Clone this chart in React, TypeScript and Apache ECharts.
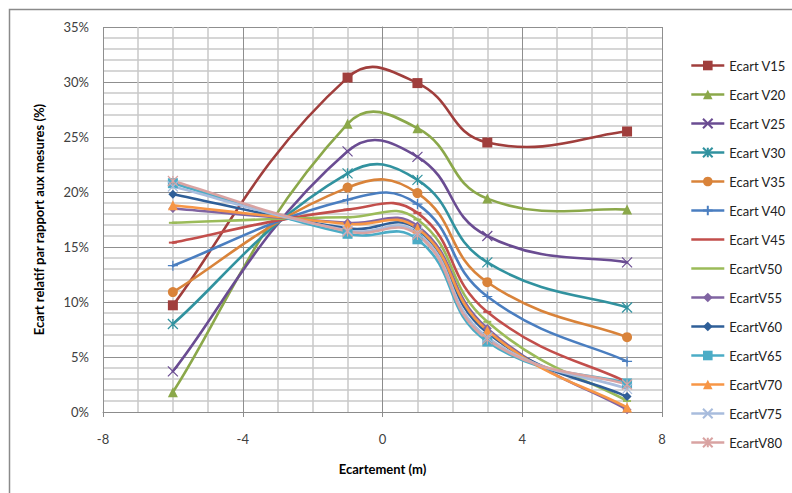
import React, { useEffect, useRef } from "react";
import * as echarts from "echarts";

const xPositions = [-6, -1, 1, 3, 7];
const seriesNames = [
  "Ecart V15", "Ecart V20", "Ecart V25", "Ecart V30", "Ecart V35", "Ecart V40", "Ecart V45",
  "EcartV50", "EcartV55", "EcartV60", "EcartV65", "EcartV70", "EcartV75", "EcartV80",
];
const v15 = [9.7, 30.4, 29.9, 24.5, 25.5];
const v20 = [1.8, 26.2, 25.8, 19.4, 18.4];
const v25 = [3.7, 23.7, 23.2, 16.0, 13.6];
const v30 = [8.0, 21.7, 21.1, 13.6, 9.5];
const v35 = [10.9, 20.4, 19.9, 11.8, 6.8];
const v40 = [13.3, 19.3, 18.9, 10.5, 4.6];
const v45 = [15.4, 18.4, 18.1, 9.1, 2.7];
const v50 = [17.2, 17.7, 17.5, 8.2, 1.0];
const v55 = [18.5, 17.2, 16.9, 7.6, 0.2];
const v60 = [19.8, 16.7, 16.6, 7.2, 1.4];
const v65 = [20.8, 16.2, 15.7, 6.4, 2.6];
const v70 = [18.8, 17.1, 16.7, 7.4, 0.4];
const v75 = [20.5, 16.5, 16.3, 6.8, 2.1];
const v80 = [21.0, 16.4, 16.1, 6.6, 2.5];
const allValues = [v15, v20, v25, v30, v35, v40, v45, v50, v55, v60, v65, v70, v75, v80];

const colors = [
  "#A03E3C", "#8BA84A", "#6A4C92", "#31929F", "#D9833A", "#4A7EC0", "#C24E4B",
  "#9BBB59", "#8064A2", "#2F5F98", "#4BACC6", "#F79646", "#A8BCDD", "#D9A3A2",
];
const X_PATH = "path://M0,0L10,10M10,0L0,10";
const STAR_PATH = "path://M0,0L10,10M10,0L0,10M5,0L5,10";
const PLUS_PATH = "path://M5,0L5,10M0,5L10,5";
const DASH_PATH = "path://M0,0L10,0L10,2L0,2Z";
const symbols = [
  "rect", "triangle", X_PATH, STAR_PATH, "circle", PLUS_PATH, DASH_PATH,
  DASH_PATH, "diamond", "diamond", "rect", "triangle", X_PATH, STAR_PATH,
];
const symbolSizes: any[] = [10, 10, 10, 10, 10, 10, [8, 2], [8, 2], 9, 9, 10, 10, 10, 10];
const strokeOnly = [false, false, true, true, false, true, false, false, false, false, false, false, true, true];
const legendMarker = [true, true, true, true, true, true, false, false, true, true, true, true, true, true];

const FONT = "Lato";
const SMOOTH = 0.47;
const LINE_W = 2.6;

function controlPoints(pts: number[][], j: number) {
  const cur = pts[j];
  const isEnd = j === 0 || j === pts.length - 1;
  const prev = pts[j - 1] || cur;
  const next = pts[j + 1] || cur;
  const vx = next[0] - prev[0];
  const vy = next[1] - prev[1];
  const lp = Math.hypot(cur[0] - prev[0], cur[1] - prev[1]);
  const ln = Math.hypot(next[0] - cur[0], next[1] - cur[1]);
  const ratio = lp + ln > 0 ? ln / (lp + ln) : 0.5;
  const s = isEnd ? SMOOTH * 0.6 : SMOOTH;
  return {
    before: [cur[0] - vx * s * (1 - ratio), cur[1] - vy * s * (1 - ratio)],
    after: [cur[0] + vx * s * ratio, cur[1] + vy * s * ratio],
  };
}

export default function App() {
  const ref = useRef<HTMLDivElement>(null);
  useEffect(() => {
    document.body.style.margin = "0";
    if (!ref.current) return;
    const chart = echarts.init(ref.current, undefined, { renderer: "svg" });
    const series: any[] = [];
    seriesNames.forEach((name, i) => {
      const vals = allValues[i];
      series.push({
        name: "_curve" + i,
        type: "custom",
        coordinateSystem: "cartesian2d",
        data: xPositions.map((x, j) => [x, vals[j]]),
        encode: { x: 0, y: 1 },
        clip: false,
        silent: true,
        renderItem: (params: any, api: any) => {
          const j = params.dataIndex;
          if (j >= xPositions.length - 1) return null;
          const pts = xPositions.map((x, k) => api.coord([x, vals[k]]));
          const a = controlPoints(pts, j);
          const b = controlPoints(pts, j + 1);
          return {
            type: "bezierCurve",
            shape: {
              x1: pts[j][0], y1: pts[j][1],
              x2: pts[j + 1][0], y2: pts[j + 1][1],
              cpx1: a.after[0], cpy1: a.after[1],
              cpx2: b.before[0], cpy2: b.before[1],
            },
            style: { stroke: colors[i], fill: "none", lineWidth: LINE_W, lineCap: "round" },
          };
        },
      });
      series.push({
        name,
        type: "line",
        data: xPositions.map((x, j) => [x, vals[j]]),
        symbol: symbols[i],
        symbolSize: symbolSizes[i],
        showSymbol: true,
        lineStyle: { color: colors[i], width: LINE_W, opacity: 0 },
        itemStyle: strokeOnly[i]
          ? { color: "rgba(0,0,0,0)", borderColor: colors[i], borderWidth: 1.2 }
          : { color: colors[i], borderWidth: 0 },
        emphasis: { disabled: true },
      });
    });
    chart.setOption({
      animation: false,
      textStyle: { fontFamily: FONT },
      graphic: [
        {
          type: "rect",
          shape: { x: 9.5, y: 9.5, width: 820, height: 520 },
          style: { fill: "none", stroke: "#8a8a8a", lineWidth: 1.5 },
          silent: true,
        },
      ],
      grid: { left: 103, right: 130, top: 27, bottom: 81 },
      xAxis: {
        type: "value",
        min: -8,
        max: 8,
        interval: 4,
        name: "Ecartement (m)",
        nameLocation: "middle",
        nameGap: 50,
        nameTextStyle: { fontFamily: FONT, fontWeight: "bold", fontSize: 13, color: "#000" },
        axisLine: { show: true, onZero: false, lineStyle: { color: "#8c8c8c", width: 1 } },
        axisTick: { show: true, length: 5, lineStyle: { color: "#8c8c8c" } },
        axisLabel: { margin: 20, fontSize: 13, color: "#404040", fontFamily: FONT },
        splitLine: { show: true, lineStyle: { color: "#8f8f8f", width: 1 } },
        minorTick: { show: false, splitNumber: 4 },
        minorSplitLine: { show: true, lineStyle: { color: "#c8c8c8", width: 1.5 } },
      },
      yAxis: {
        type: "value",
        min: 0,
        max: 35,
        interval: 5,
        name: "Ecart relatif par rapport aux mesures (%)",
        nameLocation: "middle",
        nameGap: 58,
        nameTextStyle: { fontFamily: FONT, fontWeight: "bold", fontSize: 13, color: "#000" },
        axisLine: { show: true, lineStyle: { color: "#8c8c8c", width: 1 } },
        axisTick: { show: true, length: 5, lineStyle: { color: "#8c8c8c" } },
        axisLabel: { formatter: "{value}%", margin: 14, fontSize: 13, color: "#404040", fontFamily: FONT },
        splitLine: { show: true, lineStyle: { color: "#8f8f8f", width: 1 } },
        minorTick: { show: false, splitNumber: 5 },
        minorSplitLine: { show: true, lineStyle: { color: "#c8c8c8", width: 1.5 } },
      },
      legend: {
        orient: "vertical",
        left: 685,
        top: 54,
        itemWidth: 33,
        itemHeight: 12,
        itemGap: 16,
        textStyle: { fontFamily: FONT, fontSize: 13, color: "#222" },
        data: seriesNames.map((n, i) => {
          const item: any = {
            name: n,
            lineStyle: { color: colors[i], width: LINE_W, opacity: 1 },
          };
          if (!legendMarker[i]) item.itemStyle = { opacity: 0 };
          return item;
        }),
      },
      series,
    });
    return () => chart.dispose();
  }, []);
  return <div ref={ref} style={{ width: 792, height: 493 }} />;
}
